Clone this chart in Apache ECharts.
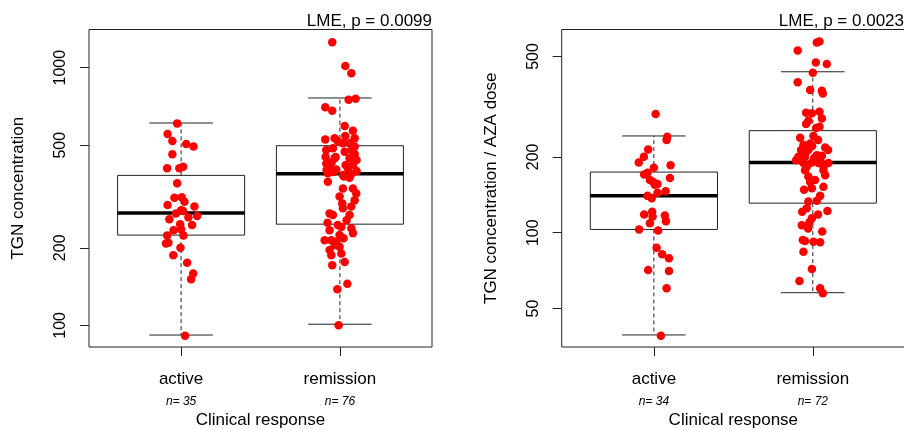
<!DOCTYPE html>
<html>
<head>
<meta charset="utf-8">
<script src="https://cdn.jsdelivr.net/npm/echarts@6/dist/echarts.min.js"></script>
<style>
html, body { margin: 0; padding: 0; background: #fff; }
#chart { width: 904px; height: 430px; }
</style>
</head>
<body>
<div id="chart"></div>
<script>
var categories = ['active', 'remission'];
var leftCounts = [35, 76];
var rightCounts = [34, 72];
var leftTicks = [100, 200, 500, 1000];
var rightTicks = [50, 100, 200, 500];
var leftRange = [82.4, 1407];
var rightRange = [35.2, 640];

// min, Q1, median, Q3, max
var leftBoxes = [[91.7, 224, 273, 382, 610], [101, 247, 388, 498, 763]];
var rightBoxes = [[39.3, 103, 140, 174, 242], [57.8, 131, 190, 254, 435]];

// TGN concentration
var leftActive = [608, 553, 519, 506, 495, 461, 407, 407, 413, 356, 313, 314, 302, 293, 289, 272, 278, 258, 263, 266,
    245, 247, 234, 236, 223, 223, 208, 200, 187, 175, 159, 151, 91.1, 209, 280];
var leftActiveJitter = [-0.025, -0.085, -0.055, 0.032, 0.078, -0.055, -0.088, -0.011, 0.013, -0.025, -0.042, 0.004, 0.021, -0.085, 0.084, -0.032, 0.013, -0.074, 0.046, 0.101,
    0.069, -0.006, -0.047, 0, -0.088, 0.015, -0.095, -0.004, -0.049, 0.038, 0.076, 0.063, 0.025, -0.08, 0];
var leftRemission = [1255, 1015, 951, 751, 758, 702, 681, 594, 569, 543, 527, 532, 532, 509, 509, 479, 487, 494, 472, 451,
    462, 445, 445, 425, 419, 407, 403, 407, 389, 383, 387, 361, 378, 374, 340, 340, 325, 316, 297, 285,
    289, 268, 272, 268, 245, 241, 234, 238, 228, 214, 214, 211, 224, 205, 202, 190, 187, 176, 171, 145,
    138, 100, 519, 438, 401, 419, 430, 306, 450, 256, 250, 218, 479, 394, 397, 196];
var leftRemissionJitter = [-0.048, 0.034, 0.072, 0.055, 0.099, -0.092, -0.048, 0.030, 0.082, 0.034,
    -0.092, -0.033, 0.093, 0.019, 0.061, -0.086, -0.044, 0.093, 0.030, -0.090,
    0.093, -0.033, 0.061, -0.086, 0.082, -0.065, -0.023, 0.050, -0.076, 0.019,
    0.072, -0.076, 0.025, 0.061, 0.019, 0.082, 0.103, -0.002, 0.015, 0.019,
    0.072, 0.061, -0.065, -0.044, -0.013, 0.009, -0.065, 0.072, 0.082, -0.096,
    -0.054, -0.023, -0.002, -0.033, -0.002, 0.009, -0.054, 0.030, -0.048, 0.047,
    -0.016, -0.008, -0.015, 0.105, -0.084, 0.036, -0.052, 0.093, -0.027, 0.042,
    -0.078, 0.023, 0.074, -0.040, 0.105, -0.065];

// TGN concentration / AZA dose
var rightActive = [296, 240, 233, 214, 200, 190, 181, 185, 170, 173, 165, 162, 159, 156, 140, 144, 146, 137, 118, 121,
    116, 117, 111, 109, 103, 102, 87.2, 82.1, 79.1, 71.1, 70.5, 60.2, 39.0, 155];
var rightActiveJitter = [0.011, 0.084, 0.080, -0.036, -0.063, -0.095, 0, 0.105, -0.061, -0.040,
    0.101, -0.025, -0.004, 0.023, -0.040, 0.023, 0.074, -0.014, -0.061, -0.011,
    -0.008, 0.069, 0.076, -0.025, -0.093, 0.027, 0.017, 0.052, 0.095, -0.036,
    0.095, 0.080, 0.044, 0.006];
var rightRemission = [568, 573, 528, 473, 467, 431, 395, 368, 366, 357, 299, 298, 302, 278, 284, 263, 242, 223, 226, 218,
    213, 213, 203, 200, 200, 202, 189, 190, 189, 189, 183, 183, 177, 177, 167, 169, 159, 150, 152, 133,
    134, 125, 122, 114, 107, 110, 93.5, 92.1, 91.6, 92.7, 84.1, 71.8, 64.3, 60.2, 57.5, 270, 260, 238, 233, 221,
    213, 209, 198, 194, 194, 162, 148, 140, 121, 118, 104, 101];
var rightRemissionJitter = [0.025, 0.042, -0.095, 0.019, 0.088, 0, -0.095, -0.017, 0.057, 0.063,
    -0.042, -0.006, 0.042, -0.028, 0.057, 0.042, 0.004, -0.059, -0.017, 0.078,
    -0.074, -0.028, 0.025, -0.091, -0.049, 0.057, -0.059, -0.006, 0.035, 0.098,
    -0.038, 0.067, -0.049, 0.067, -0.028, 0.078, -0.017, -0.006, 0.067, -0.028,
    0.025, -0.038, 0.092, -0.006, -0.069, -0.021, -0.063, 0.004, 0.046, -0.049,
    -0.059, -0.006, -0.084, 0.046, 0.063, -0.042, 0.021, -0.080, 0.033, -0.004,
    0.096, -0.042, 0.008, -0.105, 0.046, 0.014, -0.055, 0.046, -0.067, 0.033,
    -0.030, 0.059];

var font = "'Liberation Sans', Arial, Helvetica, sans-serif";
var lineColor = '#222';

function lg(v) { return Math.log10(v); }

function points(values, jitter, pos) {
    return values.map(function (v, i) { return [pos + jitter[i], lg(v)]; });
}

function boxData(boxes) {
    return boxes.map(function (b, i) {
        return [i + 1].concat(b.map(lg));
    });
}

function renderBox(params, api) {
    var x = api.value(0);
    var lo = api.coord([x, api.value(1)]);
    var q1 = api.coord([x, api.value(2)]);
    var md = api.coord([x, api.value(3)]);
    var q3 = api.coord([x, api.value(4)]);
    var hi = api.coord([x, api.value(5)]);
    var w = api.size([0.4, 0])[0];
    var c = api.size([0.2, 0])[0];
    var cx = lo[0];
    var thin = { stroke: lineColor, lineWidth: 1 };
    var dash = { stroke: lineColor, lineWidth: 1, lineDash: [4, 3] };
    return {
        type: 'group',
        children: [
            { type: 'line', shape: { x1: cx, y1: q3[1], x2: cx, y2: hi[1] }, style: dash },
            { type: 'line', shape: { x1: cx, y1: q1[1], x2: cx, y2: lo[1] }, style: dash },
            { type: 'line', shape: { x1: cx - c, y1: hi[1], x2: cx + c, y2: hi[1] }, style: thin },
            { type: 'line', shape: { x1: cx - c, y1: lo[1], x2: cx + c, y2: lo[1] }, style: thin },
            { type: 'rect', shape: { x: cx - w, y: q3[1], width: 2 * w, height: q1[1] - q3[1] },
              style: { fill: 'rgba(0,0,0,0)', stroke: lineColor, lineWidth: 1 } },
            { type: 'line', shape: { x1: cx - w, y1: md[1], x2: cx + w, y2: md[1] },
              style: { stroke: '#000', lineWidth: 3.5 } }
        ]
    };
}

function xAxisFor(idx, counts) {
    return {
        type: 'value',
        gridIndex: idx,
        min: 0.42,
        max: 2.58,
        splitLine: { show: false },
        axisLine: { show: false },
        axisTick: { customValues: [1, 2], length: 9, lineStyle: { color: lineColor } },
        axisLabel: {
            customValues: [1, 2],
            margin: 22,
            formatter: function (v) {
                var i = Math.round(v) - 1;
                return '{c|' + categories[i] + '}\n{n|n= ' + counts[i] + '}';
            },
            rich: {
                c: { fontSize: 17, lineHeight: 20, color: '#000', fontFamily: font },
                n: { fontSize: 12, lineHeight: 25, fontStyle: 'italic', color: '#000', fontFamily: font }
            }
        },
        name: 'Clinical response',
        nameLocation: 'middle',
        nameGap: 65,
        nameMoveOverlap: false,
        nameTextStyle: { fontSize: 17, color: '#000', fontFamily: font }
    };
}

function yAxisFor(idx, range, ticks, title) {
    var tv = ticks.map(lg);
    return {
        type: 'value',
        gridIndex: idx,
        min: lg(range[0]),
        max: lg(range[1]),
        splitLine: { show: false },
        axisLine: { show: false },
        axisTick: { customValues: tv, length: 9, lineStyle: { color: lineColor } },
        axisLabel: {
            customValues: tv,
            rotate: 90,
            margin: 20,
            fontSize: 16,
            color: '#000',
            fontFamily: font,
            formatter: function (v) { return Math.round(Math.pow(10, v)); }
        },
        name: title,
        nameLocation: 'middle',
        nameRotate: 90,
        nameGap: 62,
        nameMoveOverlap: false,
        nameTextStyle: { fontSize: 17, color: '#000', fontFamily: font }
    };
}

var myChart = echarts.init(document.getElementById('chart'));
var dot = { color: '#ff0000', opacity: 1 };

var option = {
    animation: false,
    backgroundColor: '#fff',
    title: [{
        text: 'LME, p = 0.0099',
        right: 472,
        top: 13,
        padding: 0,
        textStyle: { fontSize: 17, fontWeight: 'normal', color: '#000', fontFamily: font }
    }, {
        text: 'LME, p = 0.0023',
        right: 0,
        top: 13,
        padding: 0,
        textStyle: { fontSize: 17, fontWeight: 'normal', color: '#000', fontFamily: font }
    }],
    grid: [
        { left: 89, top: 29.5, width: 343, height: 317.5, show: true, borderColor: lineColor, borderWidth: 1,
          backgroundColor: 'rgba(0,0,0,0)', outerBoundsMode: 'none' },
        { left: 561.7, top: 29.5, width: 343.3, height: 317.5, show: true, borderColor: lineColor, borderWidth: 1,
          backgroundColor: 'rgba(0,0,0,0)', outerBoundsMode: 'none' }
    ],
    xAxis: [xAxisFor(0, leftCounts), xAxisFor(1, rightCounts)],
    yAxis: [
        yAxisFor(0, leftRange, leftTicks, 'TGN concentration'),
        yAxisFor(1, rightRange, rightTicks, 'TGN concentration / AZA dose')
    ],
    series: [
        { type: 'custom', xAxisIndex: 0, yAxisIndex: 0, renderItem: renderBox,
          encode: { x: 0, y: [1, 2, 3, 4, 5] }, data: boxData(leftBoxes), z: 2 },
        { type: 'custom', xAxisIndex: 1, yAxisIndex: 1, renderItem: renderBox,
          encode: { x: 0, y: [1, 2, 3, 4, 5] }, data: boxData(rightBoxes), z: 2 },
        { type: 'scatter', xAxisIndex: 0, yAxisIndex: 0, symbolSize: 8.5, itemStyle: dot, z: 3,
          data: points(leftActive, leftActiveJitter, 1) },
        { type: 'scatter', xAxisIndex: 0, yAxisIndex: 0, symbolSize: 8.5, itemStyle: dot, z: 3,
          data: points(leftRemission, leftRemissionJitter, 2) },
        { type: 'scatter', xAxisIndex: 1, yAxisIndex: 1, symbolSize: 8.5, itemStyle: dot, z: 3,
          data: points(rightActive, rightActiveJitter, 1) },
        { type: 'scatter', xAxisIndex: 1, yAxisIndex: 1, symbolSize: 8.5, itemStyle: dot, z: 3,
          data: points(rightRemission, rightRemissionJitter, 2) }
    ]
};
myChart.setOption(option);
</script>
</body>
</html>
